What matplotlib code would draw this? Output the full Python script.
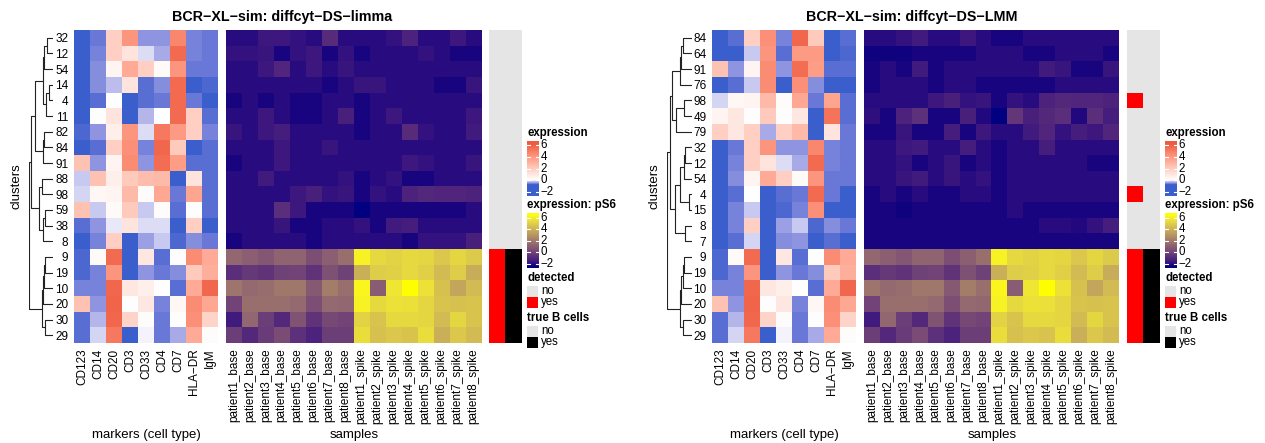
import numpy as np
import matplotlib
matplotlib.use("Agg")
import matplotlib.pyplot as plt
from matplotlib.colors import ListedColormap, Normalize
from matplotlib.patches import Rectangle

plt.rcParams['font.family'] = ['Liberation Sans', 'DejaVu Sans']

W, H = 1265, 443

# ---------------------------------------------------------------- data
markers = ["CD123", "CD14", "CD20", "CD3", "CD33", "CD4", "CD7", "HLA\u2212DR", "IgM"]
samples = ["patient1_base", "patient2_base", "patient3_base", "patient4_base",
           "patient5_base", "patient6_base", "patient7_base", "patient8_base",
           "patient1_spike", "patient2_spike", "patient3_spike", "patient4_spike",
           "patient5_spike", "patient6_spike", "patient7_spike", "patient8_spike"]

# limma panel
limma_clusters = [32, 12, 54, 14, 4, 11, 82, 84, 91, 88, 98, 59, 38, 8, 9, 19, 10, 20, 30, 29]
limma_markers = [
    [-0.95, -0.65, 1.8, 4.0, -0.5, -0.5, 4.5, -0.6, -0.65],
    [-1.0, -0.6, 1.8, 1.0, -0.15, -0.4, 5.5, -0.6, -0.65],
    [-1.0, -0.55, 0.4, 3.2, 1.8, 0.2, 4.0, -0.65, -0.65],
    [-1.2, -0.55, -0.3, 1.0, -0.7, -0.55, 5.5, -0.8, -0.75],
    [-1.0, -0.7, 0.0, -1.5, -0.7, -0.65, 5.5, -0.65, -0.8],
    [-1.0, 0.05, 1.0, -1.5, -0.35, 0.0, 5.5, 1.8, -0.7],
    [-0.75, -0.5, 0.6, 4.0, -0.15, 5.0, 3.8, 1.8, -0.6],
    [-1.0, -0.7, 1.8, 4.2, -0.6, 5.6, 2.0, -0.8, -0.7],
    [2.3, -0.5, 0.4, 4.3, -0.5, 5.4, 3.7, -0.7, -0.7],
    [-0.25, 2.3, 0.6, 2.0, 2.5, 2.6, -0.8, 1.0, -0.7],
    [-0.2, 0.3, 0.4, 2.6, 0.1, 3.3, -0.65, 3.4, -0.7],
    [2.3, -0.25, 0.2, 2.0, -0.25, 0.1, -0.7, 0.05, -0.7],
    [-0.7, -0.5, -0.1, 1.0, -0.15, -0.15, -0.8, 1.8, -0.85],
    [-0.95, -0.6, 1.8, -1.5, -0.45, -0.25, -0.75, -0.55, -0.65],
    [-0.75, 0.2, 5.5, -1.5, 0.9, -0.7, 0.05, 4.3, 3.2],
    [-0.75, -0.6, 4.0, -1.0, -0.5, -0.65, -0.55, 2.0, 3.0],
    [-0.6, -0.6, 5.6, 0.9, 0.6, 0.0, -0.7, 3.2, 5.6],
    [2.3, -0.5, 5.7, 0.05, 0.9, -0.6, 0.3, 4.3, 3.3],
    [-0.7, -0.35, 5.6, 1.6, 0.1, -0.65, 0.05, 4.2, 1.6],
    [-0.7, -0.2, 5.0, -1.5, -0.05, -0.65, -0.4, 3.2, 0.1],
]
limma_ps6 = [
    [-2.0, -2.0, -1.6, -1.6, -1.8, -2.0, -0.9, -2.0, -2.0, -2.0, -1.8, -1.2, -2.0, -2.0, -1.6, -2.0],
    [-1.8, -1.8, -1.7, -2.2, -1.8, -1.6, -2.2, -1.8, -2.2, -2.0, -2.0, -2.0, -1.8, -2.0, -2.2, -2.2],
    [-2.0, -2.0, -1.6, -1.1, -2.0, -1.6, -2.0, -1.7, -2.0, -2.0, -2.0, -2.0, -2.0, -2.0, -2.0, -2.0],
    [-2.0, -2.0, -2.0, -2.0, -2.0, -2.0, -2.2, -2.0, -1.7, -1.7, -2.0, -2.0, -2.0, -2.2, -2.2, -1.7],
    [-2.2, -2.0, -2.2, -2.0, -2.2, -2.2, -2.0, -2.0, -2.2, -2.0, -2.0, -2.0, -2.0, -2.0, -2.0, -2.0],
    [-2.0, -2.0, -1.6, -2.0, -2.2, -2.2, -2.0, -1.3, -2.2, -2.0, -1.6, -2.0, -2.0, -2.0, -2.0, -1.6],
    [-1.7, -2.0, -1.6, -1.4, -2.0, -2.0, -2.0, -2.0, -2.2, -2.0, -2.0, -0.9, -1.8, -2.0, -2.0, -1.5],
    [-2.0, -2.0, -2.0, -1.6, -2.0, -2.0, -1.7, -2.0, -2.0, -2.0, -2.0, -2.0, -2.0, -2.0, -2.0, -2.0],
    [-2.2, -2.0, -2.0, -1.6, -2.0, -2.0, -2.0, -2.0, -2.0, -2.0, -2.0, -1.6, -1.8, -2.0, -2.0, -1.7],
    [-2.0, -2.0, -1.5, -2.0, -2.0, -2.0, -2.0, -1.8, -2.2, -2.0, -1.8, -2.2, -2.2, -2.0, -2.0, -2.0],
    [-2.0, -2.0, -2.0, -2.0, -1.6, -1.3, -1.8, -1.7, -2.2, -1.8, -2.0, -1.2, -1.0, -1.1, -1.1, -1.2],
    [-2.0, -2.0, -2.0, -0.8, -1.6, -2.2, -2.2, -2.2, -2.8, -2.2, -2.2, -2.2, -2.2, -2.2, -2.2, -2.0],
    [-2.0, -2.0, -2.0, -1.7, -2.2, -2.2, -2.0, -2.0, -1.8, -2.2, -1.5, -1.4, -2.0, -2.0, -2.0, -2.0],
    [-2.2, -2.0, -2.0, -2.0, -2.0, -2.2, -2.0, -2.0, -2.0, -2.0, -2.0, -2.2, -1.8, -1.8, -1.8, -1.3],
    [1.3, 1.0, 0.7, 1.2, 1.2, 0.4, 1.0, 1.6, 6.0, 5.2, 5.0, 5.2, 5.1, 4.6, 5.1, 4.7],
    [-0.8, -0.4, -0.6, -0.1, 0.0, -0.6, 0.5, -0.1, 3.8, 4.8, 4.9, 5.2, 4.9, 4.2, 4.8, 3.7],
    [1.8, 1.4, 1.5, 1.9, 1.9, 0.8, 2.1, 1.6, 6.1, 0.9, 5.6, 6.4, 5.5, 4.4, 3.5, 4.2],
    [0.0, 1.6, 1.6, 1.6, 1.4, 0.4, 1.4, 1.3, 6.0, 5.2, 5.5, 5.4, 5.1, 4.5, 4.4, 4.5],
    [-1.5, 1.3, -0.2, -1.0, 0.6, -0.6, 0.2, 0.0, 5.0, 4.5, 5.2, 5.2, 5.1, 4.2, 5.1, 4.5],
    [-0.2, -1.0, -0.3, 0.3, -0.7, -1.2, -0.2, -0.2, 5.3, 4.4, 4.6, 4.5, 5.3, 3.8, 4.6, 4.2],
]
limma_detected = [0, 0, 0, 0, 0, 0, 0, 0, 0, 0, 0, 0, 0, 0, 1, 1, 1, 1, 1, 1]
limma_true_b = [0, 0, 0, 0, 0, 0, 0, 0, 0, 0, 0, 0, 0, 0, 1, 1, 1, 1, 1, 1]
# dendrogram merges: (child, child, height); "mK" refers to the K-th merge
limma_merges = [
    (32, 12, 6.3), ("m0", 54, 8.7), (14, 4, 3.7), ("m2", 11, 7.3), ("m1", "m3", 10.3),
    (82, 84, 8.7), ("m5", 91, 9.7), ("m4", "m6", 18.0),
    (88, 98, 11.3), (59, 38, 8.0), ("m9", 8, 10.3), ("m8", "m10", 13.7),
    ("m7", "m11", 22.5),
    (9, 19, 8.0), ("m13", 10, 9.5), (30, 29, 8.0), ("m14", 20, 10.3), ("m16", "m15", 11.3),
    ("m12", "m17", 24.0),
]

# LMM panel
lmm_clusters = [84, 64, 91, 76, 98, 49, 79, 32, 12, 54, 4, 15, 8, 7, 9, 19, 10, 20, 30, 29]
lmm_markers = [
    [-1.0, -0.7, 1.8, 4.2, -0.6, 5.6, 2.0, -0.8, -0.7],
    [-1.1, -0.8, -0.25, 4.0, -0.7, 3.8, 3.8, -0.85, -0.75],
    [2.3, -0.5, 0.4, 4.3, -0.5, 5.4, 3.7, -0.7, -0.7],
    [-1.1, -0.7, -0.25, 4.3, -0.8, 4.2, -0.55, -0.9, -0.8],
    [-0.2, 0.3, 0.4, 2.6, 0.1, 3.3, -0.65, 3.4, -0.7],
    [0.4, 0.9, 0.05, 2.0, 0.05, 0.9, -0.8, 5.2, -0.7],
    [1.8, 0.9, 1.8, -0.4, 1.8, 2.6, -0.8, 1.0, -0.65],
    [-0.95, -0.65, 1.8, 4.0, -0.5, -0.5, 4.5, -0.6, -0.65],
    [-1.0, -0.6, 1.8, 1.0, -0.15, -0.4, 5.5, -0.6, -0.65],
    [-1.0, -0.55, 0.4, 3.2, 1.8, 0.2, 4.0, -0.65, -0.65],
    [-1.0, -0.7, 0.0, -1.5, -0.7, -0.65, 5.5, -0.65, -0.8],
    [-1.1, -0.6, -0.25, -1.5, -0.75, -0.6, 4.2, -0.8, -0.8],
    [-0.95, -0.6, 1.8, -1.5, -0.45, -0.25, -0.75, -0.55, -0.65],
    [-0.95, -0.7, -0.2, -1.5, -0.55, -0.5, -0.9, -0.7, -0.8],
    [-0.75, 0.2, 5.5, -1.5, 0.9, -0.7, 0.05, 4.3, 3.2],
    [-0.75, -0.6, 4.0, -1.0, -0.5, -0.65, -0.55, 2.0, 3.0],
    [-0.6, -0.6, 5.6, 0.9, 0.6, 0.0, -0.7, 3.2, 5.6],
    [2.3, -0.5, 5.7, 0.05, 0.9, -0.6, 0.3, 4.3, 3.3],
    [-0.7, -0.35, 5.6, 1.6, 0.1, -0.65, 0.05, 4.2, 1.6],
    [-0.7, -0.2, 5.0, -1.5, -0.05, -0.65, -0.4, 3.2, 0.1],
]
lmm_ps6 = [
    [-2.0, -2.0, -1.8, -1.5, -2.0, -2.0, -1.6, -2.0, -2.2, -2.2, -2.0, -2.0, -2.0, -2.0, -2.0, -2.0],
    [-2.3, -2.3, -2.3, -2.2, -2.2, -2.2, -2.2, -2.0, -2.0, -2.0, -2.2, -2.2, -2.0, -2.0, -2.0, -2.2],
    [-2.2, -2.0, -2.2, -1.5, -2.2, -2.0, -2.0, -2.0, -2.0, -2.0, -2.0, -1.5, -1.7, -2.2, -2.2, -1.7],
    [-2.2, -2.0, -2.0, -2.0, -2.2, -2.0, -2.0, -2.2, -2.2, -2.2, -2.2, -2.2, -2.0, -2.0, -2.0, -2.0],
    [-2.0, -2.0, -2.0, -2.0, -1.6, -1.3, -1.8, -1.7, -2.2, -1.8, -2.0, -1.2, -1.0, -1.1, -1.1, -1.2],
    [-1.9, -2.2, -1.2, -0.7, -2.2, -2.2, -1.3, -2.1, -2.6, -0.5, -1.3, -1.0, -0.8, -2.1, -0.8, -1.4],
    [-2.2, -2.2, -1.7, -2.2, -2.2, -1.4, -2.2, -1.6, -2.0, -2.0, -1.5, -1.1, -1.8, -1.4, -1.6, -1.1],
    [-2.0, -2.0, -1.6, -1.5, -2.0, -2.0, -1.4, -2.0, -2.2, -2.0, -2.0, -1.4, -2.0, -2.0, -2.0, -2.0],
    [-2.0, -2.0, -1.8, -2.2, -2.0, -1.7, -2.2, -2.0, -2.2, -2.0, -2.0, -2.0, -2.0, -2.0, -2.2, -2.2],
    [-2.0, -2.0, -1.7, -1.5, -2.0, -1.7, -2.0, -1.8, -2.2, -2.0, -2.0, -2.0, -2.0, -2.0, -2.0, -2.0],
    [-2.2, -2.0, -2.2, -2.0, -2.2, -2.2, -2.0, -2.0, -2.2, -2.0, -2.0, -2.0, -2.0, -2.0, -2.0, -2.0],
    [-2.2, -2.2, -2.3, -2.2, -2.2, -2.2, -2.2, -2.2, -2.2, -2.0, -2.2, -2.2, -2.2, -2.2, -2.2, -2.2],
    [-2.2, -2.2, -2.2, -2.2, -2.2, -2.2, -2.2, -2.2, -2.2, -2.2, -2.2, -2.0, -2.0, -2.1, -1.8, -1.4],
    [-2.2, -2.2, -2.2, -2.2, -2.2, -2.2, -2.2, -2.2, -2.2, -2.2, -2.2, -2.2, -2.2, -2.2, -2.2, -2.2],
    [1.3, 1.0, 0.7, 1.2, 1.2, 0.4, 1.0, 1.6, 6.0, 5.2, 5.0, 5.2, 5.1, 4.6, 5.1, 4.7],
    [-0.8, -0.4, -0.6, -0.1, 0.0, -0.6, 0.5, -0.1, 3.8, 4.8, 4.9, 5.2, 4.9, 4.2, 4.8, 3.7],
    [1.8, 1.4, 1.5, 1.9, 1.9, 0.8, 2.1, 1.6, 6.1, 0.9, 5.6, 6.4, 5.5, 4.4, 3.5, 4.2],
    [0.0, 1.6, 1.6, 1.6, 1.4, 0.4, 1.4, 1.3, 6.0, 5.2, 5.5, 5.4, 5.1, 4.5, 4.4, 4.5],
    [-1.5, 1.3, -0.2, -1.0, 0.6, -0.6, 0.2, 0.0, 5.0, 4.5, 5.2, 5.2, 5.1, 4.2, 5.1, 4.5],
    [-0.2, -1.0, -0.3, 0.3, -0.7, -1.2, -0.2, -0.2, 5.3, 4.4, 4.6, 4.5, 5.3, 3.8, 4.6, 4.2],
]
lmm_detected = [0, 0, 0, 0, 1, 0, 0, 0, 0, 0, 1, 0, 0, 0, 1, 1, 1, 1, 1, 1]
lmm_true_b = [0, 0, 0, 0, 0, 0, 0, 0, 0, 0, 0, 0, 0, 0, 1, 1, 1, 1, 1, 1]
lmm_merges = [
    (84, 64, 9.0), ("m0", 91, 11.0), ("m1", 76, 12.3),
    (98, 49, 8.3), ("m3", 79, 15.7), ("m2", "m4", 20.0),
    (32, 12, 6.7), ("m6", 54, 8.3), (4, 15, 3.3), ("m7", "m8", 11.7),
    (8, 7, 6.7), ("m9", "m10", 17.3), ("m5", "m11", 21.7),
    (9, 19, 7.7), ("m13", 10, 9.0), (30, 29, 9.0), ("m14", 20, 10.5), ("m16", "m15", 11.7),
    ("m12", "m17", 25.0),
]


# ---------------------------------------------------------------- colours (LAB ramps like colorRamp2)
def srgb_to_lab(rgb):
    rgb = np.asarray(rgb, dtype=float)
    lin = np.where(rgb <= 0.04045, rgb / 12.92, ((rgb + 0.055) / 1.055) ** 2.4)
    M = np.array([[0.4124, 0.3576, 0.1805], [0.2126, 0.7152, 0.0722], [0.0193, 0.1192, 0.9505]])
    xyz = lin @ M.T / np.array([0.95047, 1.0, 1.08883])
    d = 6 / 29
    f = np.where(xyz > d ** 3, np.cbrt(xyz), xyz / (3 * d * d) + 4 / 29)
    return np.stack([116 * f[..., 1] - 16, 500 * (f[..., 0] - f[..., 1]), 200 * (f[..., 1] - f[..., 2])], -1)


def lab_to_srgb(lab):
    L, a, b = lab[..., 0], lab[..., 1], lab[..., 2]
    fy = (L + 16) / 116
    fx = fy + a / 500
    fz = fy - b / 200
    d = 6 / 29
    finv = lambda t: np.where(t > d, t ** 3, 3 * d * d * (t - 4 / 29))
    xyz = np.stack([0.95047 * finv(fx), finv(fy), 1.08883 * finv(fz)], -1)
    Minv = np.array([[3.2406, -1.5372, -0.4986], [-0.9689, 1.8758, 0.0415], [0.0557, -0.2040, 1.0570]])
    lin = np.clip(xyz @ Minv.T, 0, 1)
    return np.clip(np.where(lin <= 0.0031308, 12.92 * lin, 1.055 * lin ** (1 / 2.4) - 0.055), 0, 1)


def ramp(breaks, colors, lo, hi, n=512):
    labs = srgb_to_lab([matplotlib.colors.to_rgb(c) for c in colors])
    vals = np.linspace(lo, hi, n)
    lab = np.stack([np.interp(vals, breaks, labs[:, k]) for k in range(3)], -1)
    return ListedColormap(lab_to_srgb(lab)), Normalize(lo, hi)


expr_cmap, expr_norm = ramp([-0.8, 0.0, 6.0], ["#3A5FCD", "#FFFFFF", "#EE5C42"], -2.7, 6.7)
ps6_cmap, ps6_norm = ramp([-2.4, 6.4], ["#000080", "#FFFF00"], -2.7, 6.8)
GREY = "#E5E5E5"

fig = plt.figure(figsize=(W / 100, H / 100), dpi=100)
FS = 8.3     # legends
TFS = 8.5    # tick labels


def px_axes(x0, y0, x1, y1):
    ax = fig.add_axes([x0 / W, 1 - y1 / H, (x1 - x0) / W, (y1 - y0) / H])
    for s in ax.spines.values():
        s.set_visible(False)
    return ax


def px_text(x, y, s, **kw):
    fig.text(x / W, 1 - y / H, s, **kw)


def px_rect(x0, y0, x1, y1, color):
    fig.add_artist(Rectangle((x0 / W, 1 - y1 / H), (x1 - x0) / W, (y1 - y0) / H,
                             transform=fig.transFigure, facecolor=color, edgecolor="none"))


def draw_dendro(ax, clusters, merges, hmax):
    nodes = {c: (i, 0.0) for i, c in enumerate(clusters)}
    for k, (a, b, h) in enumerate(merges):
        ya, ha = nodes[a]
        yb, hb = nodes[b]
        ax.plot([ha, h, h, hb], [ya, ya, yb, yb], color="#222222", lw=0.8, solid_capstyle="butt")
        nodes["m%d" % k] = ((ya + yb) / 2, h)
    ax.set_xlim(hmax, 0)
    ax.set_ylim(len(clusters) - 0.5, -0.5)
    ax.set_xticks([])
    ax.set_yticks([])
    ax.patch.set_alpha(0)


def grad_legend(x, y0, y1, cmap, norm, title):
    px_text(x, y0 - 8, title, fontsize=FS, fontweight="bold", va="center", ha="left")
    ax = px_axes(x, y0, x + 12, y1)
    lo, hi = norm.vmin, norm.vmax
    ax.imshow(np.linspace(hi, lo, 300)[:, None], cmap=cmap, norm=norm, aspect="auto",
              extent=[0, 1, lo, hi], interpolation="nearest")
    ax.set_xlim(0, 1)
    ax.set_ylim(lo, hi)
    for t in [-2, 0, 2, 4, 6]:
        ax.plot([0, 0.22], [t, t], color="white", lw=0.8)
        ax.plot([0.78, 1], [t, t], color="white", lw=0.8)
        ax.text(1.15, t, str(t).replace("-", "\u2212"), transform=ax.get_yaxis_transform(),
                fontsize=FS, va="center", ha="left")
    ax.set_xticks([])
    ax.set_yticks([])


def disc_legend(x, y0, title, color_yes):
    px_text(x, y0 - 8, title, fontsize=FS, fontweight="bold", va="center", ha="left")
    for i, (lab, col) in enumerate([("no", GREY), ("yes", color_yes)]):
        px_rect(x, y0 + 11 * i, x + 11, y0 + 11 * i + 10.5, col)
        px_text(x + 14, y0 + 11 * i + 5.5, lab, fontsize=FS, va="center", ha="left")


def panel(dx, title, title_x, clusters, mk, ps6, det, true_b, merges, hmax):
    y0, y1 = 30, 343
    px_text(title_x, 17, title, fontsize=10.3, fontweight="bold", ha="center", va="center")

    ax_d = px_axes(29 + dx, y0, 29 + dx + hmax, y1)
    draw_dendro(ax_d, clusters, merges, hmax)
    px_text(17 + dx, (y0 + y1) / 2, "clusters", fontsize=9.5, rotation=90, ha="center", va="center")

    ax_m = px_axes(74 + dx, y0, 218 + dx, y1)
    ax_m.imshow(np.array(mk), cmap=expr_cmap, norm=expr_norm, aspect="auto", interpolation="nearest")
    ax_m.set_yticks(range(len(clusters)))
    ax_m.set_yticklabels([str(c) for c in clusters], fontsize=TFS)
    ax_m.set_xticks(range(len(markers)))
    ax_m.set_xticklabels(markers, rotation=90, fontsize=TFS)
    ax_m.tick_params(length=0, pad=4)
    px_text(146 + dx, 435, "markers (cell type)", fontsize=9.5, ha="center", va="center")

    ax_s = px_axes(226 + dx, y0, 481 + dx, y1)
    ax_s.imshow(np.array(ps6), cmap=ps6_cmap, norm=ps6_norm, aspect="auto", interpolation="nearest")
    ax_s.set_yticks([])
    ax_s.set_xticks(range(len(samples)))
    ax_s.set_xticklabels(samples, rotation=90, fontsize=TFS)
    ax_s.tick_params(length=0, pad=4)
    px_text(354 + dx, 435, "samples", fontsize=9.5, ha="center", va="center")

    ax_a = px_axes(489 + dx, y0, 505 + dx, y1)
    ax_a.imshow(np.array(det)[:, None], cmap=ListedColormap([GREY, "#FF0000"]), vmin=0, vmax=1,
                aspect="auto", interpolation="nearest")
    ax_a.set_xticks([])
    ax_a.set_yticks([])
    ax_b = px_axes(505 + dx, y0, 522 + dx, y1)
    ax_b.imshow(np.array(true_b)[:, None], cmap=ListedColormap([GREY, "#000000"]), vmin=0, vmax=1,
                aspect="auto", interpolation="nearest")
    ax_b.set_xticks([])
    ax_b.set_yticks([])

    lx = 527 + dx
    grad_legend(lx, 141, 196, expr_cmap, expr_norm, "expression")
    grad_legend(lx, 213, 268, ps6_cmap, ps6_norm, "expression: pS6")
    disc_legend(lx, 286, "detected", "#FF0000")
    disc_legend(lx, 326, "true B cells", "#000000")


panel(0, "BCR\u2212XL\u2212sim: diffcyt\u2212DS\u2212limma", 282, limma_clusters, limma_markers,
      limma_ps6, limma_detected, limma_true_b, limma_merges, 24.0)
panel(638, "BCR\u2212XL\u2212sim: diffcyt\u2212DS\u2212LMM", 912, lmm_clusters, lmm_markers,
      lmm_ps6, lmm_detected, lmm_true_b, lmm_merges, 25.0)

fig.savefig("out.png", dpi=100)
